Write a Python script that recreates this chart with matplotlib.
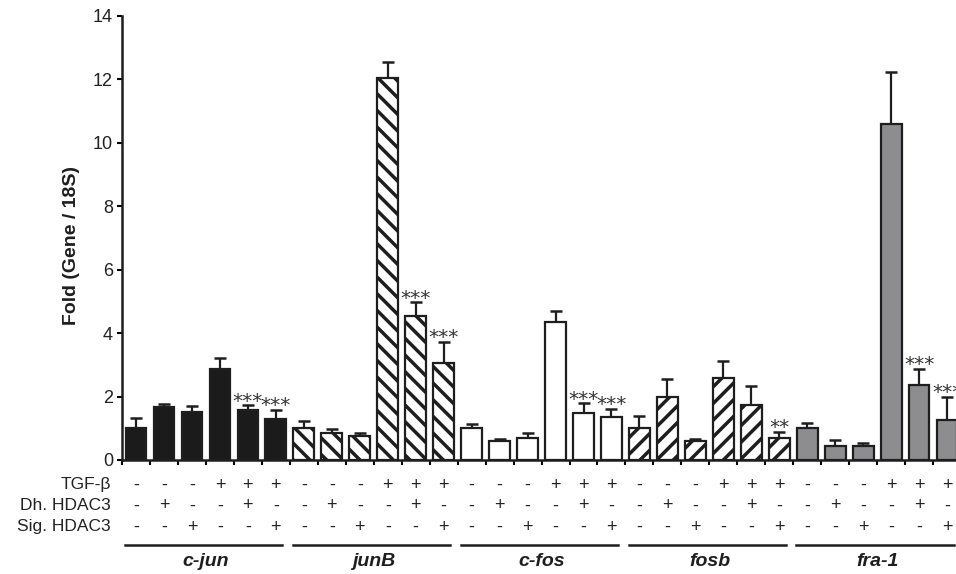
import matplotlib
matplotlib.use('Agg')
import matplotlib.pyplot as plt
from matplotlib.transforms import blended_transform_factory
import numpy as np

# ---------------- data ----------------
genes = ['c-jun', 'junB', 'c-fos', 'fosb', 'fra-1']
row_labels = ['TGF-β', 'Dh. HDAC3', 'Sig. HDAC3']
tgf_signs = ['-', '-', '-', '+', '+', '+']
dh_signs = ['-', '+', '-', '-', '+', '-']
sig_signs = ['-', '-', '+', '-', '-', '+']

cjun_mean = [1.02, 1.66, 1.50, 2.87, 1.58, 1.28]
cjun_top = [1.31, 1.76, 1.70, 3.23, 1.73, 1.58]
junb_mean = [1.02, 0.86, 0.76, 12.04, 4.54, 3.07]
junb_top = [1.23, 0.97, 0.86, 12.56, 4.97, 3.73]
cfos_mean = [1.02, 0.60, 0.70, 4.34, 1.49, 1.35]
cfos_top = [1.12, 0.66, 0.86, 4.71, 1.79, 1.61]
fosb_mean = [1.00, 2.00, 0.60, 2.57, 1.73, 0.70]
fosb_top = [1.39, 2.56, 0.66, 3.13, 2.33, 0.88]
fra1_mean = [1.00, 0.44, 0.44, 10.60, 2.37, 1.26]
fra1_top = [1.16, 0.63, 0.55, 12.22, 2.87, 2.00]

cjun_stars = ['', '', '', '', '***', '***']
junb_stars = ['', '', '', '', '***', '***']
cfos_stars = ['', '', '', '', '***', '***']
fosb_stars = ['', '', '', '', '', '**']
fra1_stars = ['', '', '', '', '***', '***']

yticks = [0, 2, 4, 6, 8, 10, 12, 14]

means = [cjun_mean, junb_mean, cfos_mean, fosb_mean, fra1_mean]
tops = [cjun_top, junb_top, cfos_top, fosb_top, fra1_top]
stars = [cjun_stars, junb_stars, cfos_stars, fosb_stars, fra1_stars]

# ---------------- style ----------------
plt.rcParams['font.family'] = ['Liberation Sans', 'DejaVu Sans']
plt.rcParams['hatch.linewidth'] = 2.5

fills = ['#1b1b1b', 'white', 'white', 'white', '#8d8d8f']
hatches = [None, '\\\\', None, '//', None]

W, H = 956, 574
fig = plt.figure(figsize=(W / 100, H / 100), dpi=100)
ax = fig.add_axes([122 / W, (H - 460) / H, 30 * 27.97 / W, 444 / H])

n_per = len(tgf_signs)
for g in range(len(genes)):
    x = np.arange(n_per) + g * n_per
    m = np.array(means[g])
    t = np.array(tops[g])
    ax.errorbar(x, m, yerr=[np.zeros_like(m), t - m], fmt='none',
                ecolor='#1e1e1e', elinewidth=1.6, capsize=4, capthick=1.8,
                zorder=1)
    ax.bar(x, m, width=0.74, color=fills[g], edgecolor='#1e1e1e',
           linewidth=1.6, hatch=hatches[g], zorder=2)
    for xi, ti, s in zip(x, t, stars[g]):
        if s:
            ax.annotate(s, (xi, ti), xytext=(0, -1), textcoords='offset points',
                        ha='center', va='baseline', fontsize=14.5, color='#333333',
                        family='DejaVu Sans', annotation_clip=False)

n_total = n_per * len(genes)
ax.set_xlim(-0.5, n_total - 0.5)
ax.set_ylim(0, 14)
ax.set_yticks(yticks)
ax.set_yticklabels([str(v) for v in yticks], fontsize=13, color='#222222')
ax.set_xticks(np.arange(n_total + 1) - 0.5)
ax.set_xticklabels([])
ax.tick_params(axis='y', direction='out', length=3.5, width=1.5, pad=3)
ax.tick_params(axis='x', direction='out', length=3.5, width=1.5)
for sp in ['top', 'right']:
    ax.spines[sp].set_visible(False)
for sp in ['left', 'bottom']:
    ax.spines[sp].set_linewidth(1.8)
    ax.spines[sp].set_color('#1e1e1e')

fig.text(72 / W, 1 - 245.5 / H, 'Fold (Gene / 18S)', rotation=90, ha='center',
         va='center', fontsize=14, fontweight='bold', color='#1e1e1e')

# condition table
trans = blended_transform_factory(ax.transData, fig.transFigure)
row_y = [1 - 485 / H, 1 - 506 / H, 1 - 527 / H]
row_signs = [tgf_signs, dh_signs, sig_signs]
for ry, lab, signs in zip(row_y, row_labels, row_signs):
    fig.text(111 / W, ry, lab, ha='right', va='center', fontsize=12.5,
             color='#222222')
    for g in range(len(genes)):
        for i, s in enumerate(signs):
            ax.text(g * n_per + i, ry, s, transform=trans, ha='center',
                    va='center', fontsize=13, color='#222222', clip_on=False)

line_y = 1 - 545 / H
lab_y = 1 - 562 / H
for g, name in enumerate(genes):
    x0 = g * n_per
    ax.plot([x0 - 0.39, x0 + 5.23], [line_y, line_y], transform=trans,
            color='#1e1e1e', linewidth=1.8, clip_on=False)
    ax.text(x0 + 2.5, lab_y, name, transform=trans, ha='center', va='center',
            fontsize=14, fontweight='bold', fontstyle='italic', color='#1e1e1e',
            clip_on=False)

fig.savefig('out.png', dpi=100)
